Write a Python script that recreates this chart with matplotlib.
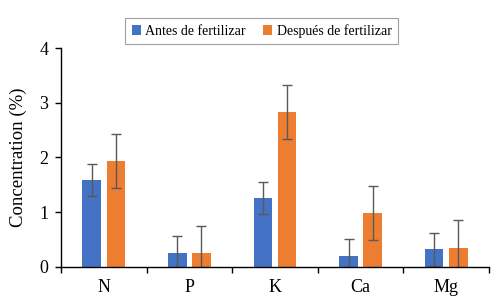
import matplotlib
matplotlib.use('Agg')
import matplotlib.pyplot as plt
import numpy as np

plt.rcParams['font.family'] = ['Liberation Serif', 'DejaVu Serif']

nutrients = ['N', 'P', 'K', 'Ca', 'Mg']
antes = [1.59, 0.26, 1.26, 0.20, 0.32]
antes_err = [0.30, 0.30, 0.29, 0.30, 0.30]
despues = [1.94, 0.25, 2.83, 0.98, 0.35]
despues_err = [0.49, 0.50, 0.49, 0.49, 0.50]

blue = '#4472C4'
orange = '#ED7D31'
err_color = '#595959'

fig = plt.figure(figsize=(5.0, 3.07), dpi=100)
ax = fig.add_axes([0.122, 0.131, 0.856, 0.712])

x = np.arange(len(nutrients))
w = 0.216
off = 0.141
ekw = dict(ecolor=err_color, elinewidth=1.0, capsize=3.5, capthick=1.0)
b1 = ax.bar(x - off, antes, w, color=blue, yerr=antes_err, error_kw=ekw,
            label='Antes de fertilizar', zorder=2)
b2 = ax.bar(x + off, despues, w, color=orange, yerr=despues_err, error_kw=ekw,
            label='Después de fertilizar', zorder=2)

ax.set_xlim(-0.5, len(nutrients) - 0.5)
ax.set_ylim(0, 4)
ax.set_yticks([0, 1, 2, 3, 4])
ax.set_xticks(x)
ax.set_xticklabels(nutrients, fontsize=13)
ax.set_xticks(np.arange(-0.5, len(nutrients)), minor=True)
ax.tick_params(axis='x', which='major', length=0, pad=9)
ax.tick_params(axis='x', which='minor', length=4, width=1, direction='out')
ax.tick_params(axis='y', length=4, width=1, labelsize=13, pad=5)
ax.set_ylabel('Concentration (%)', fontsize=13.5, labelpad=9)

for s in ['top', 'right']:
    ax.spines[s].set_visible(False)
for s in ['left', 'bottom']:
    ax.spines[s].set_linewidth(1.0)
    ax.spines[s].set_color('black')

leg = fig.legend(handles=[b1, b2], loc='center', bbox_to_anchor=(0.523, 0.899),
                 ncol=2, fontsize=10, frameon=True, fancybox=False,
                 handlelength=0.7, handleheight=0.7, handletextpad=0.3,
                 columnspacing=1.2, borderpad=0.45, edgecolor='#888888')
leg.get_frame().set_linewidth(0.8)

fig.savefig('out.png', dpi=100)
